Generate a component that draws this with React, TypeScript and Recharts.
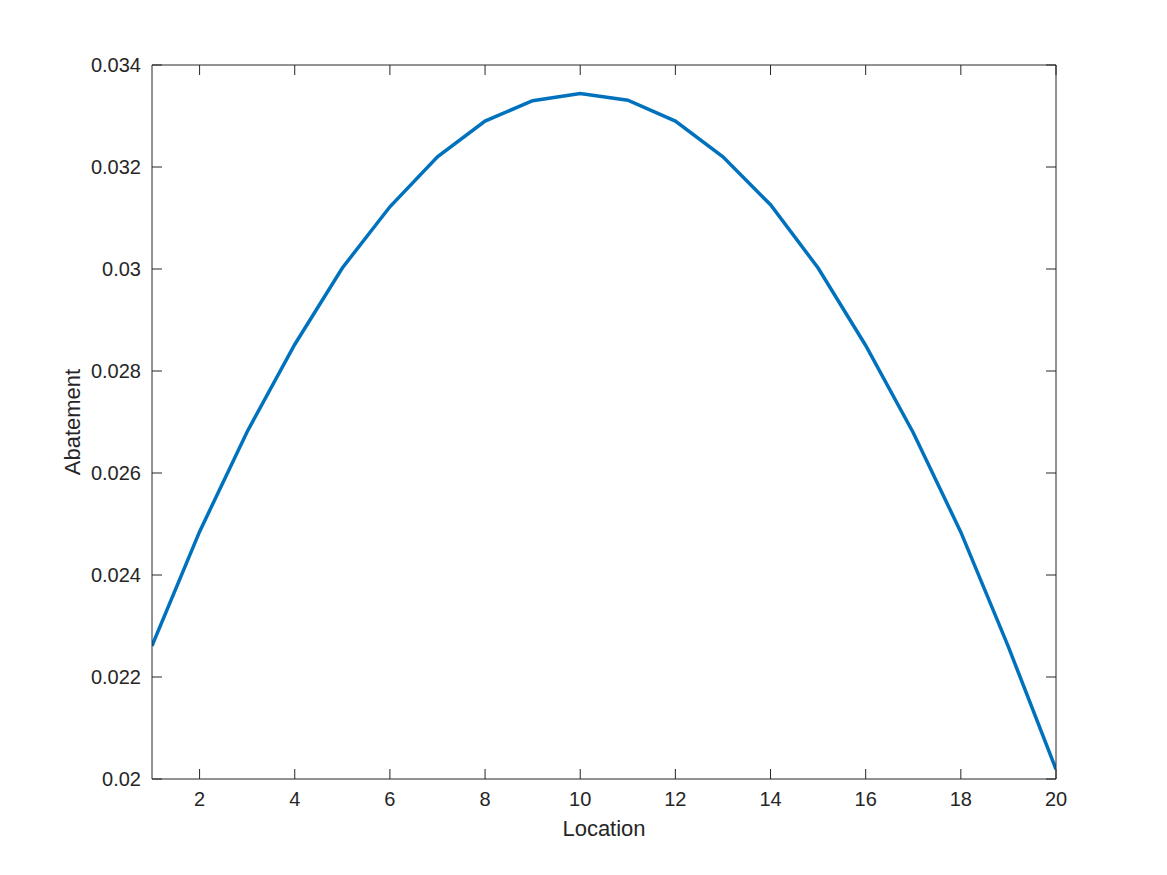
import React from 'react';
import { LineChart, Line, XAxis, YAxis, Label } from 'recharts';

const locations = [1, 2, 3, 4, 5, 6, 7, 8, 9, 10, 11, 12, 13, 14, 15, 16, 17, 18, 19, 20];
const abatement = [
  0.02261, 0.02485, 0.02681, 0.02852, 0.03002, 0.03122, 0.0322, 0.0329, 0.0333, 0.03344,
  0.03331, 0.0329, 0.0322, 0.03126, 0.03002, 0.0285, 0.02679, 0.02484, 0.02259, 0.02019,
];
const xTicks = [2, 4, 6, 8, 10, 12, 14, 16, 18, 20];
const yTicks = [0.02, 0.022, 0.024, 0.026, 0.028, 0.03, 0.032, 0.034];
const yTickLabels = ['0.02', '0.022', '0.024', '0.026', '0.028', '0.03', '0.032', '0.034'];

const data = locations.map((loc, i) => ({ loc, value: abatement[i] }));

const AX = '#262626';
const FONT = '"Liberation Sans", Arial, Helvetica, sans-serif';

const BottomTick = (props: any) => {
  const { x, y, payload } = props;
  return (
    <g>
      <line x1={x} x2={x} y1={y} y2={y - 10} stroke={AX} strokeWidth={1} />
      <text x={x} y={y + 13} dy="0.72em" textAnchor="middle" fill={AX} fontSize={20} fontFamily={FONT}>
        {String(payload.value)}
      </text>
    </g>
  );
};

const TopTick = (props: any) => {
  const { x, y } = props;
  return <line x1={x} x2={x} y1={y} y2={y + 10} stroke={AX} strokeWidth={1} />;
};

const LeftTick = (props: any) => {
  const { x, y, payload } = props;
  const idx = yTicks.indexOf(payload.value);
  const lbl = idx >= 0 ? yTickLabels[idx] : String(payload.value);
  return (
    <g>
      <line x1={x} x2={x + 10} y1={y} y2={y} stroke={AX} strokeWidth={1} />
      <text x={x - 11} y={y} dy="0.36em" textAnchor="end" fill={AX} fontSize={20} fontFamily={FONT}>
        {lbl}
      </text>
    </g>
  );
};

const RightTick = (props: any) => {
  const { x, y } = props;
  return <line x1={x} x2={x - 10} y1={y} y2={y} stroke={AX} strokeWidth={1} />;
};

const YLabel = (props: any) => {
  const vb = props.viewBox || { x: 151, y: 65, width: 1, height: 714 };
  const cx = vb.x + vb.width - 72;
  const cy = vb.y + vb.height / 2;
  return (
    <text
      transform={`translate(${cx}, ${cy}) rotate(-90)`}
      textAnchor="middle"
      fill={AX}
      fontSize={22}
      fontFamily={FONT}
    >
      Abatement
    </text>
  );
};

const XLabel = (props: any) => {
  const vb = props.viewBox || { x: 152, y: 779, width: 904, height: 1 };
  const cx = vb.x + vb.width / 2;
  const cy = vb.y + 41;
  return (
    <text x={cx} y={cy} dy="0.72em" textAnchor="middle" fill={AX} fontSize={22} fontFamily={FONT}>
      Location
    </text>
  );
};

export default function App() {
  return (
    <div style={{ position: 'absolute', left: 0, top: 0, width: 1167, height: 875, background: '#fff' }}>
      <LineChart
        width={1167}
        height={875}
        data={data}
        margin={{ top: 64, right: 110, bottom: 95, left: 151 }}
      >
        <XAxis
          xAxisId="bottom"
          dataKey="loc"
          type="number"
          domain={[1, 20]}
          allowDataOverflow
          ticks={xTicks}
          interval={0}
          orientation="bottom"
          height={1}
          tickSize={0}
          tickMargin={0}
          tickLine={false}
          axisLine={{ stroke: AX, strokeWidth: 1 }}
          tick={<BottomTick />}
        >
          <Label content={<XLabel />} />
        </XAxis>
        <XAxis
          xAxisId="top"
          dataKey="loc"
          type="number"
          domain={[1, 20]}
          allowDataOverflow
          ticks={xTicks}
          interval={0}
          orientation="top"
          height={1}
          tickSize={0}
          tickMargin={0}
          tickLine={false}
          axisLine={{ stroke: AX, strokeWidth: 1 }}
          tick={<TopTick />}
        />
        <YAxis
          yAxisId="left"
          type="number"
          domain={[0.02, 0.034]}
          allowDataOverflow
          ticks={yTicks}
          interval={0}
          orientation="left"
          width={1}
          tickSize={0}
          tickMargin={0}
          tickLine={false}
          axisLine={{ stroke: AX, strokeWidth: 1 }}
          tick={<LeftTick />}
        >
          <Label content={<YLabel />} />
        </YAxis>
        <YAxis
          yAxisId="right"
          type="number"
          domain={[0.02, 0.034]}
          allowDataOverflow
          ticks={yTicks}
          interval={0}
          orientation="right"
          width={1}
          tickSize={0}
          tickMargin={0}
          tickLine={false}
          axisLine={{ stroke: AX, strokeWidth: 1 }}
          tick={<RightTick />}
        />
        <Line
          xAxisId="bottom"
          yAxisId="left"
          type="linear"
          dataKey="value"
          stroke="#0072BD"
          strokeWidth={3.5}
          dot={false}
          isAnimationActive={false}
        />
      </LineChart>
    </div>
  );
}
